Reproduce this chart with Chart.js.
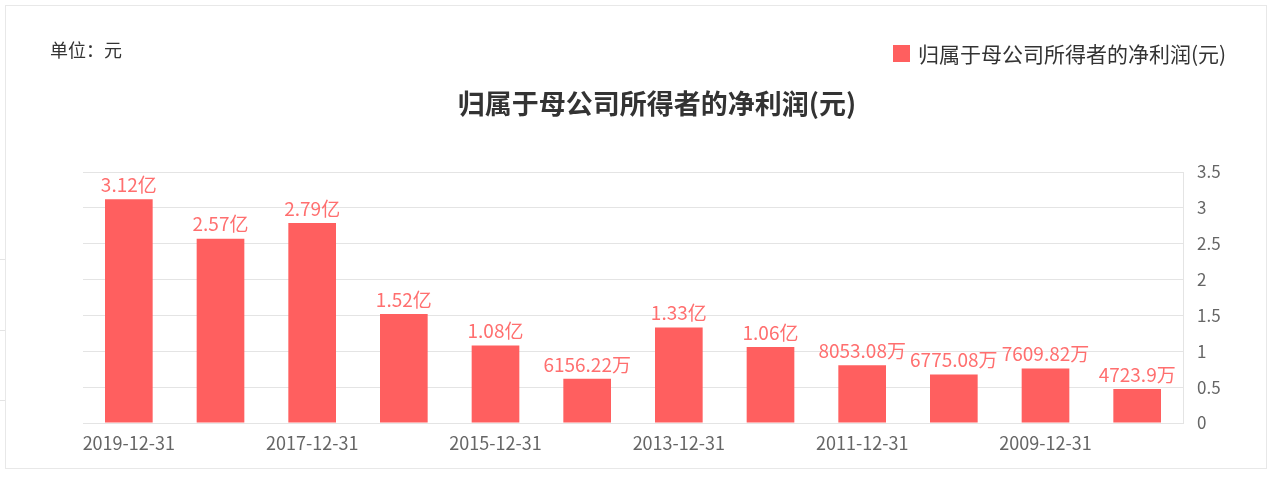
<!DOCTYPE html>
<html lang="zh-CN">
<head>
<meta charset="utf-8">
<title>归属于母公司所得者的净利润(元)</title>
<script src="https://cdn.jsdelivr.net/npm/chart.js@4.4.1/dist/chart.umd.min.js"></script>
<style>
  html, body { margin: 0; padding: 0; background: #ffffff; overflow: hidden; }
  #wrap { position: relative; width: 1277px; height: 478px; }
  #frame {
    position: absolute; left: 5px; top: 5px; width: 1262px; height: 464px;
    border: 1px solid #e8e8e8; box-sizing: border-box;
  }
  .edge { position: absolute; left: 0; width: 5px; height: 1px; background: #e4e4e4; }
  #chart { position: absolute; left: 0; top: 0; }
</style>
</head>
<body>
<div id="wrap">
  <div id="frame"></div>
  <div class="edge" style="top:259px"></div>
  <div class="edge" style="top:330px"></div>
  <div class="edge" style="top:400px"></div>
  <canvas id="chart" width="1277" height="478"></canvas>
</div>
<script>
// Report dates, newest first
const categories = [
  '2019-12-31', '2018-12-31', '2017-12-31', '2016-12-31', '2015-12-31', '2014-12-31',
  '2013-12-31', '2012-12-31', '2011-12-31', '2010-12-31', '2009-12-31', '2008-12-31'
];
// Net profit attributable to parent company owners, in 亿元
const netProfit = [3.12, 2.57, 2.79, 1.52, 1.08, 0.615622, 1.33, 1.06, 0.805308, 0.677508, 0.760982, 0.47239];
// Value axis ticks (亿元)
const yTicks = [0, 0.5, 1, 1.5, 2, 2.5, 3, 3.5];

const seriesName = '归属于母公司所得者的净利润(元)';
const chartTitle = '归属于母公司所得者的净利润(元)';
const unitText = '单位：元';

const FONT = '"Noto Sans CJK SC", "Noto Sans", sans-serif';
const BAR_COLOR = '#ff5f5f';
const LABEL_COLOR = '#ff6f6f';

// 亿 above 1, 万 below
function formatAmount(v) {
  if (v >= 1) return v.toFixed(2) + '亿';
  return parseFloat((v * 10000).toFixed(2)) + '万';
}

// Header: unit note, title and legend
const headerPlugin = {
  id: 'header',
  afterDraw(chart) {
    const ctx = chart.ctx;
    ctx.save();
    ctx.textBaseline = 'middle';

    ctx.font = '18px ' + FONT;
    ctx.fillStyle = '#333333';
    ctx.textAlign = 'left';
    ctx.fillText(unitText, 50, 50);

    ctx.font = 'bold 27px ' + FONT;
    ctx.fillStyle = '#333333';
    ctx.textAlign = 'center';
    ctx.fillText(chartTitle, 657, 104);

    ctx.fillStyle = BAR_COLOR;
    ctx.fillRect(893, 45, 17, 17);
    ctx.font = '21px ' + FONT;
    ctx.fillStyle = '#333333';
    ctx.textAlign = 'left';
    ctx.fillText(seriesName, 918, 54);
    ctx.restore();
  }
};

// Value labels above each bar
const barLabelPlugin = {
  id: 'barLabels',
  afterDatasetsDraw(chart) {
    const ctx = chart.ctx;
    const meta = chart.getDatasetMeta(0);
    const data = chart.data.datasets[0].data;
    ctx.save();
    ctx.font = '19px ' + FONT;
    ctx.fillStyle = LABEL_COLOR;
    ctx.textAlign = 'center';
    ctx.textBaseline = 'bottom';
    meta.data.forEach((bar, i) => {
      ctx.fillText(formatAmount(data[i]), bar.x, bar.y - 5);
    });
    ctx.restore();
  }
};

new Chart(document.getElementById('chart'), {
  type: 'bar',
  data: {
    labels: categories,
    datasets: [{
      label: seriesName,
      data: netProfit,
      backgroundColor: BAR_COLOR,
      borderWidth: 0,
      barPercentage: 0.52,
      categoryPercentage: 1.0
    }]
  },
  options: {
    responsive: false,
    animation: false,
    layout: { padding: { left: 83, top: 172, right: 34, bottom: 15 } },
    plugins: {
      legend: { display: false },
      title: { display: false },
      tooltip: { enabled: false }
    },
    scales: {
      x: {
        grid: { display: false, drawTicks: false },
        border: { display: false },
        ticks: {
          autoSkip: false,
          maxRotation: 0,
          padding: 9,
          color: '#666666',
          font: { family: FONT, size: 18 },
          callback: function (val, idx) {
            return idx % 2 === 0 ? this.getLabelForValue(val) : '';
          }
        },
        afterFit(scale) { scale.height = 40; }
      },
      y: {
        position: 'right',
        min: yTicks[0],
        max: yTicks[yTicks.length - 1],
        afterBuildTicks(scale) { scale.ticks = yTicks.map(v => ({ value: v })); },
        grid: { color: '#e4e4e4', drawTicks: false },
        border: { display: true, color: '#e4e4e4' },
        ticks: {
          padding: 14,
          color: '#666666',
          font: { family: FONT, size: 17 },
          callback: v => String(v)
        },
        afterFit(scale) { scale.width = 60; }
      }
    }
  },
  plugins: [headerPlugin, barLabelPlugin]
});
</script>
</body>
</html>
